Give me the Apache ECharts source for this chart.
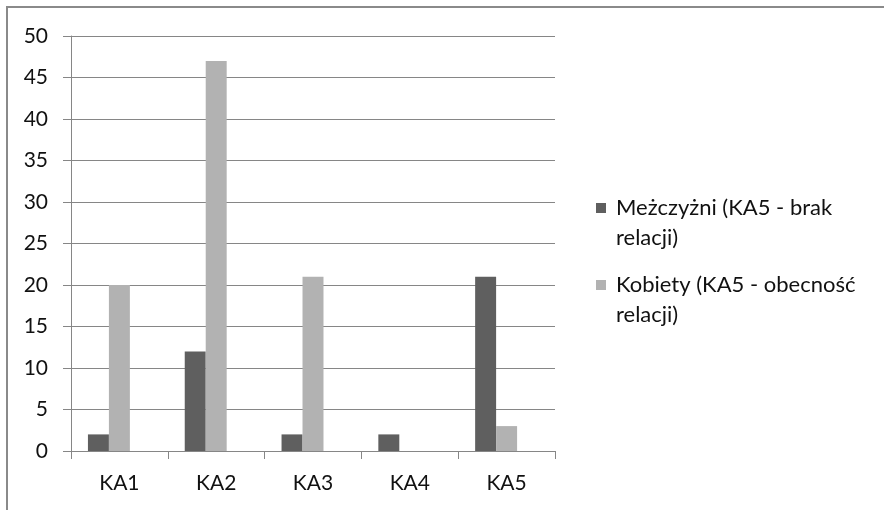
<!DOCTYPE html>
<html><head><meta charset="utf-8">
<script src="https://cdn.jsdelivr.net/npm/echarts@6/dist/echarts.min.js"></script>
<style>html,body{margin:0;padding:0;background:#fff}#c{width:884px;height:510px}</style>
</head><body><div id="c"></div>
<script>
const categories = ['KA1', 'KA2', 'KA3', 'KA4', 'KA5'];
const menName = 'Meżczyżni (KA5 - brak relacji)';
const womenName = 'Kobiety (KA5 - obecność relacji)';
const menValues = [2, 12, 2, 2, 21];
const womenValues = [20, 47, 21, 0, 3];
const emptyValues = [null, null, null, null, null];
const yTicks = { min: 0, max: 50, interval: 5 };

const wrapped = {};
wrapped[menName] = '\nMeżczyżni (KA5 - brak\nrelacji)';
wrapped[womenName] = '\nKobiety (KA5 - obecność\nrelacji)';

const font = 'Lato';
const chart = echarts.init(document.getElementById('c'));
const legendCommon = {
  orient: 'vertical', left: 591, itemWidth: 10, itemHeight: 10, icon: 'rect',
  formatter: n => wrapped[n],
  textStyle: { fontFamily: font, fontSize: 22, color: '#111', lineHeight: 30, padding: [0, 0, 0, 5] },
  selectedMode: false
};
chart.setOption({
  animation: false,
  graphic: [{ type: 'rect', shape: { x: 7, y: 7, width: 900, height: 520 }, style: { fill: 'none', stroke: '#8a8a8a', lineWidth: 2 } }],
  legend: [
    Object.assign({}, legendCommon, { data: [menName], top: 203 - 45 }),
    Object.assign({}, legendCommon, { data: [womenName], top: 280 - 45 })
  ],
  grid: { left: 71, top: 36, right: 329, bottom: 59, containLabel: false },
  xAxis: {
    type: 'category', data: categories,
    axisLine: { lineStyle: { color: '#868686', width: 1 } },
    axisTick: { show: true, length: 8, alignWithLabel: false, lineStyle: { color: '#868686' } },
    axisLabel: { fontFamily: font, fontSize: 21, color: '#111', margin: 22 }
  },
  yAxis: {
    type: 'value', min: yTicks.min, max: yTicks.max, interval: yTicks.interval,
    axisLine: { show: true, lineStyle: { color: '#868686' } },
    axisTick: { show: true, length: 8, lineStyle: { color: '#868686' } },
    splitLine: { lineStyle: { color: '#868686', width: 1 } },
    axisLabel: { fontFamily: font, fontSize: 21, color: '#111', margin: 23 }
  },
  series: [
    { name: menName, type: 'bar', data: menValues, barGap: '0%', barCategoryGap: '35%', itemStyle: { color: '#5f5f5f' } },
    { name: womenName, type: 'bar', data: womenValues, itemStyle: { color: '#b2b2b2' } },
    { name: '_', type: 'bar', data: emptyValues, itemStyle: { color: '#dddddd' } }
  ]
});
</script></body></html>
